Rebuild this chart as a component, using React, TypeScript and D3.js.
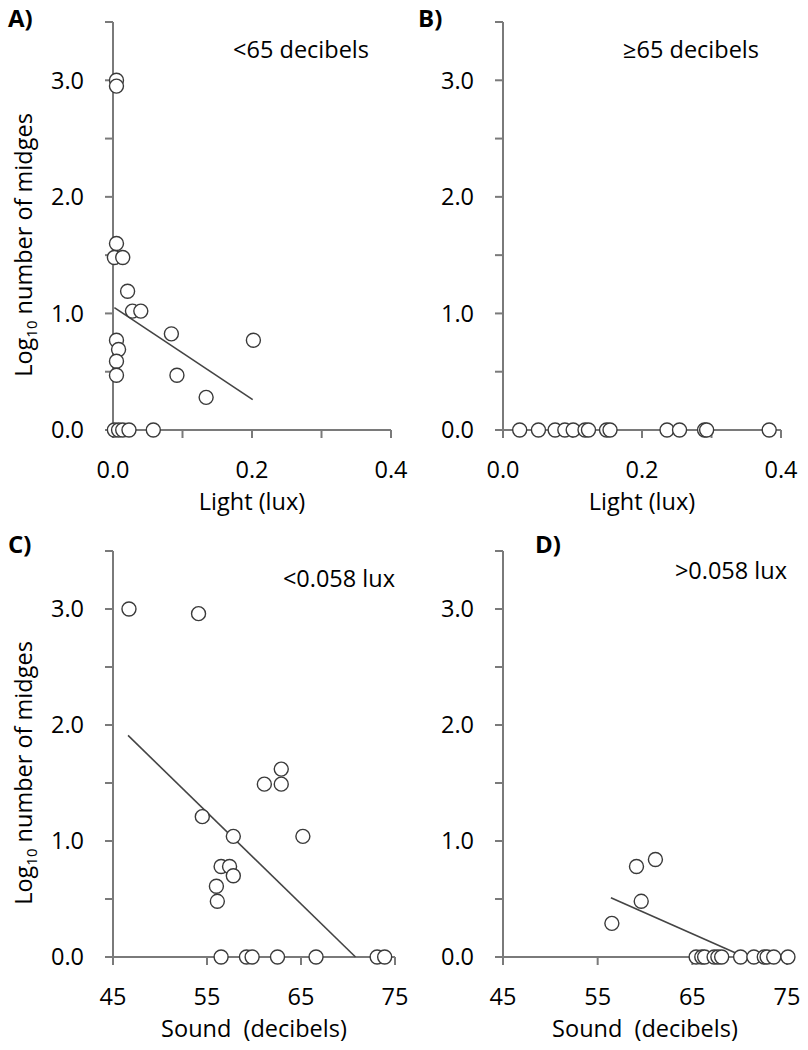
import React from "react";
import * as d3 from "d3";

// Panel A: light (lux) vs log10 midges, sites < 65 dB
const lightA = [0.005, 0.005, 0.005, 0.002, 0.014, 0.021, 0.028, 0.04, 0.084, 0.202, 0.005, 0.008, 0.005, 0.005, 0.092, 0.134, 0.002, 0.008, 0.014, 0.023, 0.058];
const midgesA = [3.0, 2.95, 1.6, 1.48, 1.48, 1.19, 1.02, 1.02, 0.825, 0.77, 0.77, 0.69, 0.59, 0.47, 0.47, 0.28, 0, 0, 0, 0, 0];
const fitA = [[0.002, 1.05], [0.201, 0.26]];

// Panel B: light vs midges, sites >= 65 dB (all zero)
const lightB = [0.024, 0.051, 0.075, 0.089, 0.101, 0.118, 0.123, 0.149, 0.154, 0.236, 0.254, 0.29, 0.293, 0.383];
const midgesB = [0, 0, 0, 0, 0, 0, 0, 0, 0, 0, 0, 0, 0, 0];

// Panel C: sound (dB) vs midges, sites < 0.058 lux
const soundC = [46.7, 54.1, 62.9, 61.1, 62.9, 54.5, 57.8, 65.2, 56.5, 57.4, 57.8, 56.0, 56.1, 56.5, 59.2, 59.8, 62.5, 66.6, 73.1, 73.9];
const midgesC = [3.0, 2.96, 1.62, 1.49, 1.49, 1.21, 1.04, 1.04, 0.78, 0.78, 0.7, 0.61, 0.48, 0, 0, 0, 0, 0, 0, 0];
const fitC = [[46.6, 1.91], [70.8, 0.0]];

// Panel D: sound vs midges, sites > 0.058 lux
const soundD = [61.1, 59.1, 59.6, 56.5, 65.4, 66.0, 66.3, 67.3, 67.7, 68.1, 70.1, 71.5, 72.6, 72.9, 73.6, 75.1];
const midgesD = [0.84, 0.78, 0.48, 0.29, 0, 0, 0, 0, 0, 0, 0, 0, 0, 0, 0, 0];
const fitD = [[56.4, 0.51], [69.7, 0.03]];

const yTicks = [0, 0.5, 1, 1.5, 2, 2.5, 3, 3.5];
const yLabels = [0, 1, 2, 3];
const lightTicks = [0, 0.1, 0.2, 0.3, 0.4];
const lightLabels = [0, 0.2, 0.4];
const soundTicks = [45, 55, 65, 75];

const font = "'Open Sans', 'DejaVu Sans', sans-serif";
const fs = 23.5;
const axisColor = "#7a7a7a";
const markColor = "#3a3a3a";

type Panel = {
  tag: string;
  note: string;
  xs: number[];
  ys: number[];
  fit: number[][] | null;
  xDomain: [number, number];
  xRange: [number, number];
  yRange: [number, number];
  xTicks: number[];
  xLabels: number[];
  xFmt: (v: number) => string;
  xTitle: string;
  showYTitle: boolean;
  tagX: number;
  tagY: number;
  noteDy: number;
};

const panels: Panel[] = [
  {
    tag: "A)", note: "<65 decibels", xs: lightA, ys: midgesA, fit: fitA,
    xDomain: [0, 0.4], xRange: [113, 391], yRange: [430, 22],
    xTicks: lightTicks, xLabels: lightLabels, xFmt: d3.format(".1f"),
    xTitle: "Light (lux)", showYTitle: true, tagX: 8, tagY: 27, noteDy: 0,
  },
  {
    tag: "B)", note: "\u226565 decibels", xs: lightB, ys: midgesB, fit: null,
    xDomain: [0, 0.4], xRange: [503, 781], yRange: [430, 22],
    xTicks: lightTicks, xLabels: lightLabels, xFmt: d3.format(".1f"),
    xTitle: "Light (lux)", showYTitle: false, tagX: 418, tagY: 27, noteDy: 0,
  },
  {
    tag: "C)", note: "<0.058 lux", xs: soundC, ys: midgesC, fit: fitC,
    xDomain: [45, 75], xRange: [113, 395], yRange: [957, 551],
    xTicks: soundTicks, xLabels: soundTicks, xFmt: d3.format("d"),
    xTitle: "Sound  (decibels)", showYTitle: true, tagX: 8, tagY: 553, noteDy: 0,
  },
  {
    tag: "D)", note: ">0.058 lux", xs: soundD, ys: midgesD, fit: fitD,
    xDomain: [45, 75], xRange: [503, 787], yRange: [957, 551],
    xTicks: soundTicks, xLabels: soundTicks, xFmt: d3.format("d"),
    xTitle: "Sound  (decibels)", showYTitle: false, tagX: 535, tagY: 553, noteDy: -8,
  },
];

function ScatterPanel({ p }: { p: Panel }) {
  const x = d3.scaleLinear().domain(p.xDomain).range(p.xRange);
  const y = d3.scaleLinear().domain([0, 3.5]).range(p.yRange);
  const x0 = p.xRange[0];
  const y0 = y(0);
  const yMid = (p.yRange[0] + p.yRange[1]) / 2 + 19;
  const line = d3.line<number[]>().x(d => x(d[0])).y(d => y(d[1]));

  return (
    <g fontFamily={font}>
      <text x={p.tagX} y={p.tagY} fontSize={24} fontWeight="bold">{p.tag}</text>
      <text x={p.xRange[1] - (p.xDomain[1] < 1 ? 22 : 0)} y={y(3.5) + 36 + p.noteDy}
        fontSize={fs} textAnchor="end">{p.note}</text>

      {/* y axis */}
      <line x1={x0} x2={x0} y1={y(0)} y2={y(3.5)} stroke={axisColor} strokeWidth={2} />
      {yTicks.map(t => (
        <line key={t} x1={x0 - 8} x2={x0} y1={y(t)} y2={y(t)} stroke={axisColor} strokeWidth={2} />
      ))}
      {yLabels.map(t => (
        <text key={t} x={x0 - 29} y={y(t)} dy="0.36em" textAnchor="end" fontSize={fs}>
          {d3.format(".1f")(t)}
        </text>
      ))}

      {/* x axis */}
      <line x1={x0} x2={p.xRange[1]} y1={y0} y2={y0} stroke={axisColor} strokeWidth={2} />
      {p.xTicks.map(t => (
        <line key={t} x1={x(t)} x2={x(t)} y1={y0} y2={y0 + 8} stroke={axisColor} strokeWidth={2} />
      ))}
      {p.xLabels.map(t => (
        <text key={t} x={x(t)} y={y0 + 48} textAnchor="middle" fontSize={fs}>
          {p.xFmt(t)}
        </text>
      ))}
      <text x={(p.xRange[0] + p.xRange[1]) / 2} y={y0 + 80} textAnchor="middle" fontSize={fs}
        style={{ whiteSpace: "pre" }}>
        {p.xTitle}
      </text>

      {p.showYTitle && (
        <text transform={`translate(32,${yMid}) rotate(-90)`} textAnchor="middle" fontSize={fs}>
          Log<tspan fontSize={15} dy={5}>10</tspan><tspan dy={-5}> number of midges</tspan>
        </text>
      )}

      {p.fit && (
        <path d={line(p.fit) || ""} fill="none" stroke="#444" strokeWidth={1.6} />
      )}

      {p.xs.map((v, i) => (
        <circle key={i} cx={x(v)} cy={y(p.ys[i])} r={7}
          fill="#fff" stroke={markColor} strokeWidth={1.4} />
      ))}
    </g>
  );
}

export default function App() {
  return (
    <svg width={808} height={1050} style={{ position: "absolute", left: 0, top: 0, background: "#fff" }}>
      <rect width={808} height={1050} fill="#fff" />
      {panels.map(p => <ScatterPanel key={p.tag} p={p} />)}
    </svg>
  );
}
